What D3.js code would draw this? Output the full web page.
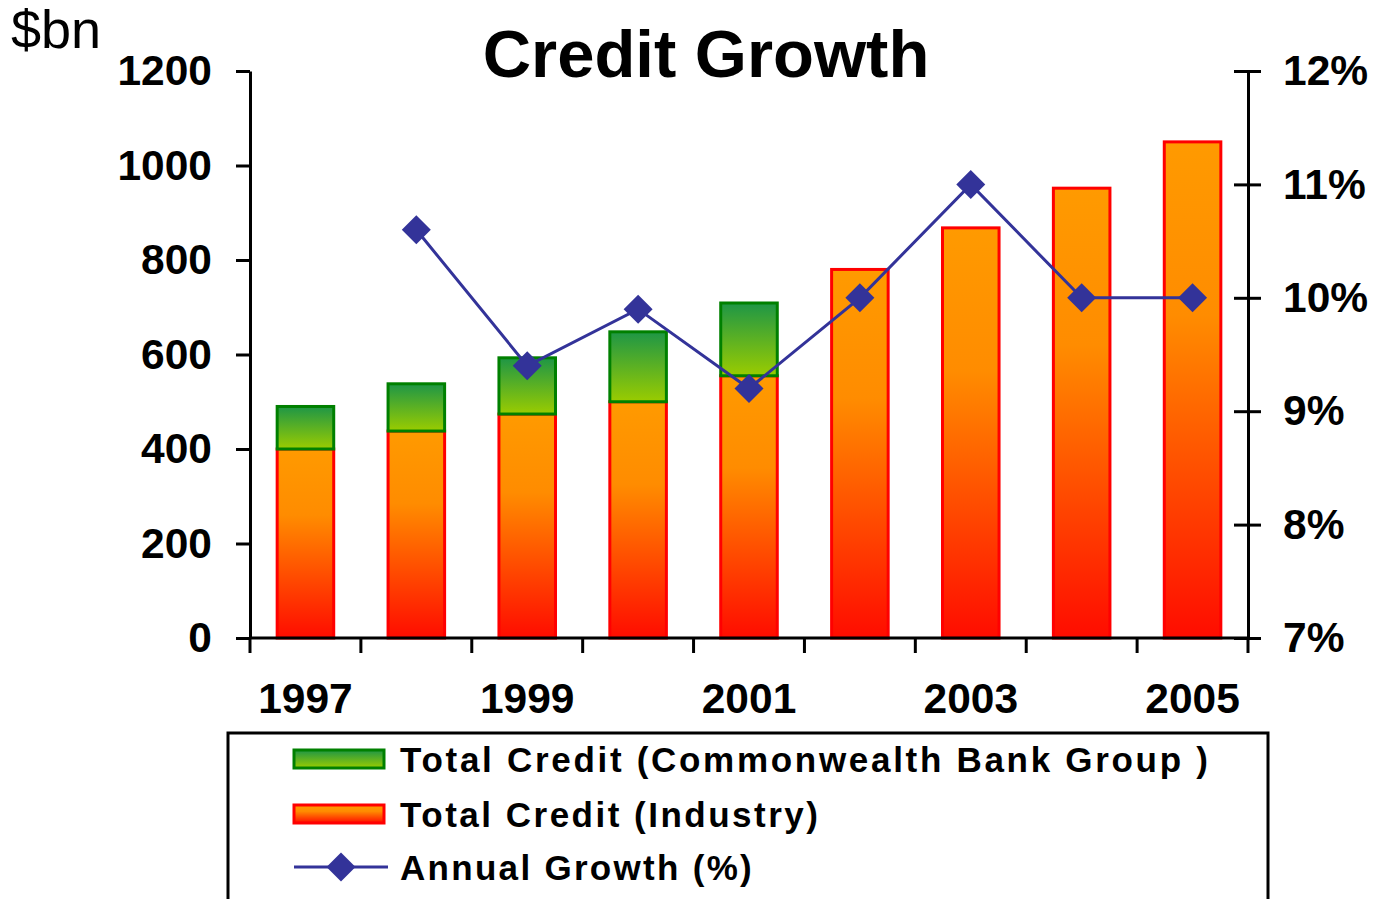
<!DOCTYPE html>
<html><head><meta charset="utf-8">
<script src="https://cdn.jsdelivr.net/npm/d3@7"></script>
<style>body{margin:0;background:#fff}svg{display:block}text{font-family:"Liberation Sans",Arial,sans-serif}</style>
</head><body><svg id="c" width="1374" height="899"></svg>
<script>
const years = [1997,1998,1999,2000,2001,2002,2003,2004,2005];
const industryCredit = [400,438,474,500,555,780,868,952,1050];
const cbaCredit = [490,538,593,648,709,null,null,null,null];
const growthYears = [1998,1999,2000,2001,2002,2003,2004,2005];
const growth = [10.6,9.4,9.9,9.2,10.0,11.0,10.0,10.0];
const leftTicks = [0,200,400,600,800,1000,1200];
const rightTicks = [7,8,9,10,11,12];
const yearLabels = [1997,1999,2001,2003,2005];
const legendLabels = ["Total Credit (Commonwealth Bank Group )","Total Credit (Industry)","Annual Growth (%)"];

const svg = d3.select("#c");
const defs = svg.append("defs");
const go = defs.append("linearGradient").attr("id","gOrange").attr("x1",0).attr("y1",0).attr("x2",0).attr("y2",1);
go.append("stop").attr("offset","0%").attr("stop-color","#FF9A00");
go.append("stop").attr("offset","35%").attr("stop-color","#FF8C00");
go.append("stop").attr("offset","100%").attr("stop-color","#FF0C00");
const gg = defs.append("linearGradient").attr("id","gGreen").attr("x1",0).attr("y1",0).attr("x2",0).attr("y2",1);
gg.append("stop").attr("offset","0%").attr("stop-color","#1E9646");
gg.append("stop").attr("offset","100%").attr("stop-color","#9ACC00");

const x = d3.scaleBand().domain(years).range([250,1248]).paddingInner(0.49).paddingOuter(0.245);
const yL = d3.scaleLinear().domain([0,1200]).range([638,71]);
const yR = d3.scaleLinear().domain([7,12]).range([638,71]);
const step = x.step();
const cx = d => x(d) + x.bandwidth()/2;
const FS = 42.5;

// bars
const data = years.map((y,i)=>({y, ind:industryCredit[i], cba:cbaCredit[i]}));
svg.append("g").selectAll("rect").data(data).join("rect")
  .attr("x",d=>x(d.y)).attr("width",x.bandwidth())
  .attr("y",d=>yL(d.ind)).attr("height",d=>yL(0)-yL(d.ind))
  .attr("fill","url(#gOrange)").attr("stroke","#FF0000").attr("stroke-width",3);
svg.append("g").selectAll("rect").data(data.filter(d=>d.cba!=null)).join("rect")
  .attr("x",d=>x(d.y)).attr("width",x.bandwidth())
  .attr("y",d=>yL(d.cba)).attr("height",d=>yL(d.ind)-yL(d.cba))
  .attr("fill","url(#gGreen)").attr("stroke","#008000").attr("stroke-width",3);

// left axis
const gl = svg.append("g").attr("transform","translate(250,0)")
  .call(d3.axisLeft(yL).tickValues(leftTicks).tickFormat(d3.format("d")).tickSize(14).tickSizeOuter(0).tickPadding(24));
gl.select(".domain").attr("stroke","#000").attr("stroke-width",3);
gl.selectAll(".tick line").attr("stroke","#000").attr("stroke-width",3);
gl.selectAll("text").attr("font-size",FS).attr("font-weight","bold").attr("fill","#000")
  .attr("font-family","Liberation Sans, Arial, sans-serif");

// right axis
const gr = svg.append("g").attr("transform","translate(1248,0)")
  .call(d3.axisRight(yR).tickValues(rightTicks).tickSize(13).tickSizeOuter(0).tickPadding(22).tickFormat(d=>d+"%"));
gr.select(".domain").attr("stroke","#000").attr("stroke-width",3);
gr.selectAll(".tick line").attr("stroke","#000").attr("stroke-width",3).attr("x1",-14);
gr.selectAll("text").attr("font-size",FS).attr("font-weight","bold").attr("fill","#000")
  .attr("font-family","Liberation Sans, Arial, sans-serif");

// bottom axis
const xTickPos = d3.range(years.length+1).map(i=>250+i*step);
svg.append("line").attr("x1",250).attr("x2",1248).attr("y1",638).attr("y2",638).attr("stroke","#000").attr("stroke-width",3);
svg.append("g").selectAll("line").data(xTickPos).join("line")
  .attr("x1",d=>d).attr("x2",d=>d).attr("y1",638).attr("y2",653).attr("stroke","#000").attr("stroke-width",3);
svg.append("g").selectAll("text").data(yearLabels).join("text")
  .attr("x",d=>cx(d)).attr("y",713).attr("text-anchor","middle")
  .attr("font-size",FS).attr("font-weight","bold").text(d=>d);

// line
const gdata = growthYears.map((y,i)=>({y,v:growth[i]}));
svg.append("path").datum(gdata)
  .attr("d",d3.line().x(d=>cx(d.y)).y(d=>yR(d.v)))
  .attr("fill","none").attr("stroke","#333399").attr("stroke-width",3);
const diamond = d3.symbol().type(d3.symbolSquare).size(420);
svg.append("g").selectAll("path").data(gdata).join("path")
  .attr("d",diamond).attr("transform",d=>`translate(${cx(d.y)},${yR(d.v)}) rotate(45)`)
  .attr("fill","#333399");

// titles
svg.append("text").attr("x",706).attr("y",77).attr("text-anchor","middle")
  .attr("font-size",67).attr("font-weight","bold").text("Credit Growth");
svg.append("text").attr("x",11).attr("y",48).attr("font-size",54).text("$bn");

// legend
svg.append("rect").attr("x",228).attr("y",733).attr("width",1040).attr("height",200)
  .attr("fill","none").attr("stroke","#000").attr("stroke-width",3);
const lg = svg.append("g");
lg.append("rect").attr("x",294).attr("y",750).attr("width",90).attr("height",18)
  .attr("fill","url(#gGreen)").attr("stroke","#008000").attr("stroke-width",3);
lg.append("rect").attr("x",294).attr("y",805).attr("width",90).attr("height",18)
  .attr("fill","url(#gOrange)").attr("stroke","#FF0000").attr("stroke-width",3);
lg.append("line").attr("x1",294).attr("x2",388).attr("y1",867).attr("y2",867).attr("stroke","#333399").attr("stroke-width",3);
lg.append("path").attr("d",diamond).attr("transform","translate(341,867) rotate(45)").attr("fill","#333399");
const ly = [772,827,880];
const lsp = [2.7,2.5,2.3];
lg.selectAll("text.l").data(legendLabels).join("text").attr("class","l")
  .attr("x",400).attr("y",(d,i)=>ly[i]).attr("font-size",35).attr("font-weight","bold")
  .attr("letter-spacing",(d,i)=>lsp[i]+"px").text(d=>d);
</script></body></html>
